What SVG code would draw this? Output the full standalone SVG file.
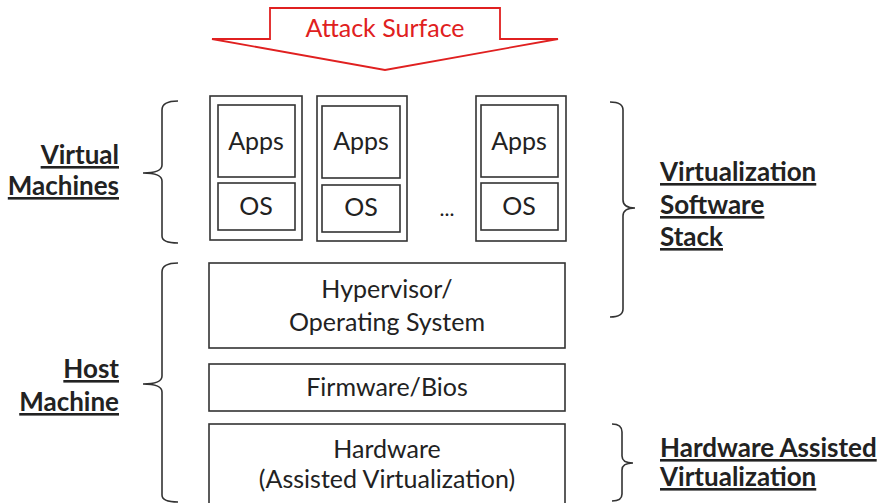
<svg xmlns="http://www.w3.org/2000/svg" width="881" height="503" viewBox="0 0 881 503">
<style>
.box{fill:#fff;stroke:#333;stroke-width:1.6}
.br{fill:none;stroke:#333;stroke-width:1.6}
.t{font-family:Lato,"Open Sans",sans-serif;font-size:25px;fill:#222;text-anchor:middle}
.lb{font-family:Lato,"Open Sans",sans-serif;font-size:26px;font-weight:bold;fill:#222;text-decoration:underline}
</style>
<rect width="881" height="503" fill="#fff"/>
<g id="attack">
<polygon points="270,8 500,8 500,39 558,39 385,70 212,39 270,39" fill="#fff" stroke="#e02020" stroke-width="1.8"/>
<text x="385" y="37" class="t" style="fill:#e02020">Attack Surface</text>
</g>
<g id="vm1">
<rect x="210" y="96" width="92" height="144" class="box"/>
<rect x="218" y="105" width="77" height="72" class="box"/>
<text x="256" y="150" class="t">Apps</text>
<rect x="218" y="183" width="77" height="47" class="box"/>
<text x="256" y="215" class="t">OS</text>
</g>
<g id="vm2">
<rect x="317" y="96" width="90" height="145" class="box"/>
<rect x="322" y="106" width="78" height="72" class="box"/>
<text x="361" y="150" class="t">Apps</text>
<rect x="322" y="185" width="78" height="47" class="box"/>
<text x="361" y="216" class="t">OS</text>
</g>
<text x="447" y="216" class="t" style="font-size:21px">...</text>
<g id="vm3">
<rect x="476" y="96" width="90" height="145" class="box"/>
<rect x="481" y="105" width="77" height="72" class="box"/>
<text x="519" y="150" class="t">Apps</text>
<rect x="481" y="183" width="77" height="47" class="box"/>
<text x="519" y="215" class="t">OS</text>
</g>
<g id="hypervisor">
<rect x="209" y="263" width="356" height="85" class="box"/>
<text x="387" y="298" class="t">Hypervisor/</text>
<text x="387" y="331" class="t">Operating System</text>
</g>
<g id="firmware">
<rect x="209" y="364" width="356" height="47" class="box"/>
<text x="387" y="396" class="t">Firmware/Bios</text>
</g>
<g id="hardware">
<rect x="209" y="424" width="356" height="85" class="box"/>
<text x="387" y="458" class="t">Hardware</text>
<text x="387" y="488" class="t">(Assisted Virtualization)</text>
</g>
<g id="braces">
<path class="br" d="M178,101 Q162,101 162,110 L162,165 Q162,173 143,173 Q162,173 162,181 L162,236 Q162,243 178,243"/>
<path class="br" d="M178,263 Q162,263 162,272 L162,376 Q162,384 143,384 Q162,384 162,392 L162,495 Q162,502 178,502"/>
<path class="br" d="M610,102 Q623,102 623,110 L623,200 Q623,208 635,208 Q623,208 623,216 L623,309 Q623,317 610,317"/>
<path class="br" d="M612,424 Q622,424 622,432 L622,456 Q622,463 633,463 Q622,463 622,470 L622,494 Q622,501 612,501"/>
</g>
<g id="labels">
<text x="119" y="164" class="lb" text-anchor="end">Virtual</text>
<text x="119" y="195" class="lb" text-anchor="end">Machines</text>
<text x="119" y="378" class="lb" text-anchor="end">Host</text>
<text x="119" y="411" class="lb" text-anchor="end">Machine</text>
<text x="660" y="181" class="lb">Virtualization</text>
<text x="660" y="214" class="lb">Software</text>
<text x="660" y="246" class="lb">Stack</text>
<text x="660" y="457" class="lb">Hardware Assisted</text>
<text x="660" y="486" class="lb">Virtualization</text>
</g>
</svg>
